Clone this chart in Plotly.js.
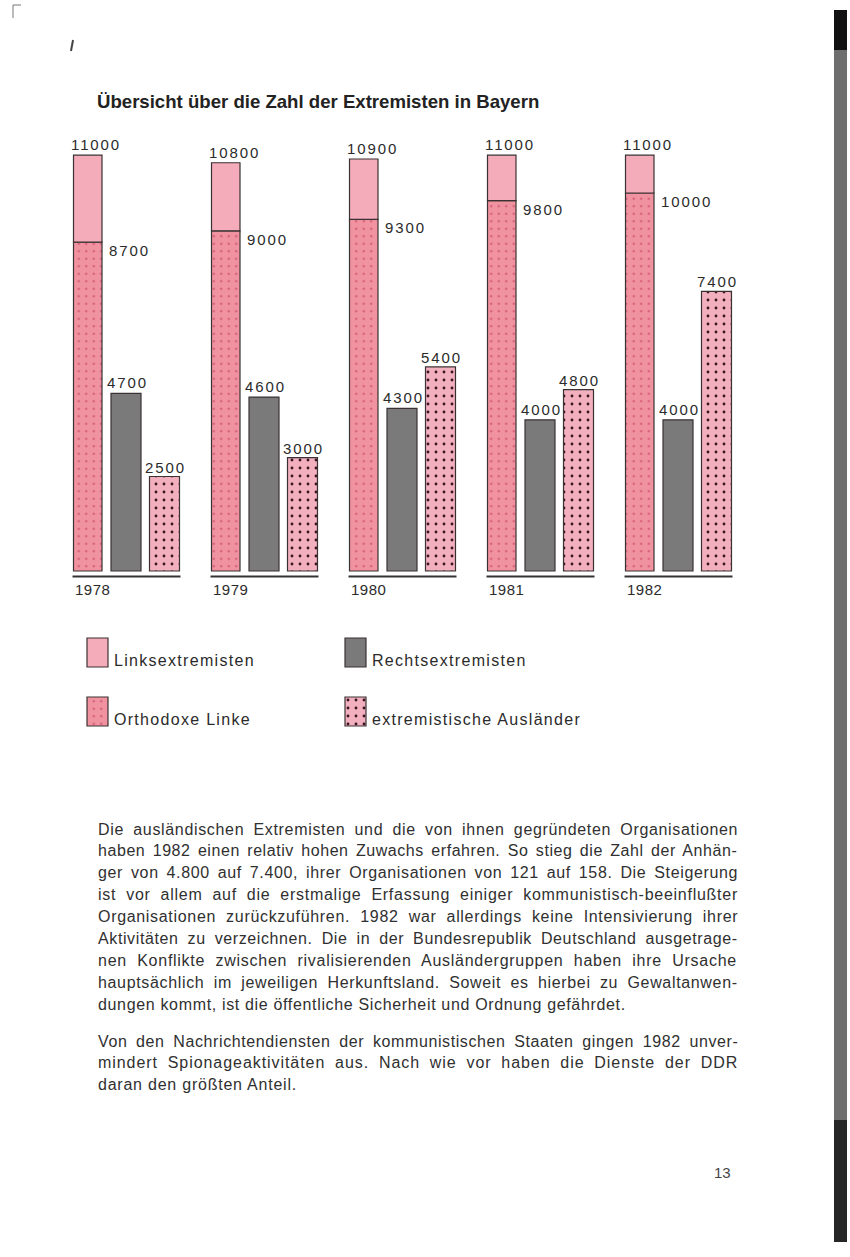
<!DOCTYPE html>
<html>
<head>
<meta charset="utf-8">
<script src="https://cdn.plot.ly/plotly-3.0.1.min.js"></script>
<style>html,body{margin:0;padding:0;background:#ffffff;}#chart{width:850px;height:1257px;}</style>
</head>
<body>
<div id="chart"></div>
<script>
// ---------------- data ----------------
const years = ['1978', '1979', '1980', '1981', '1982'];
const linksTotal = [11000, 10800, 10900, 11000, 11000];      // Linksextremisten (gesamt)
const orthodoxeLinke = [8700, 9000, 9300, 9800, 10000];     // davon Orthodoxe Linke
const rechts = [4700, 4600, 4300, 4000, 4000];              // Rechtsextremisten
const auslaender = [2500, 3000, 5400, 4800, 7400];          // extremistische Ausländer
const seriesNames = ['Linksextremisten', 'Rechtsextremisten', 'Orthodoxe Linke', 'extremistische Ausländer'];
const titleText = 'Übersicht über die Zahl der Extremisten in Bayern';
const paragraph1 = [
  'Die ausländischen Extremisten und die von ihnen gegründeten Organisationen',
  'haben 1982 einen relativ hohen Zuwachs erfahren. So stieg die Zahl der Anhän-',
  'ger von 4.800 auf 7.400, ihrer Organisationen von 121 auf 158. Die Steigerung',
  'ist vor allem auf die erstmalige Erfassung einiger kommunistisch-beeinflußter',
  'Organisationen zurückzuführen. 1982 war allerdings keine Intensivierung ihrer',
  'Aktivitäten zu verzeichnen. Die in der Bundesrepublik Deutschland ausgetrage-',
  'nen Konflikte zwischen rivalisierenden Ausländergruppen haben ihre Ursache',
  'hauptsächlich im jeweiligen Herkunftsland. Soweit es hierbei zu Gewaltanwen-',
  'dungen kommt, ist die öffentliche Sicherheit und Ordnung gefährdet.'
];
const paragraph2 = [
  'Von den Nachrichtendiensten der kommunistischen Staaten gingen 1982 unver-',
  'mindert Spionageaktivitäten aus. Nach wie vor haben die Dienste der DDR',
  'daran den größten Anteil.'
];
const pageNumber = '13';

// ---------------- styles / geometry ----------------
const W = 850, H = 1257;
const FAMILY = '"Liberation Sans", Arial, Helvetica, sans-serif';
const TXT = '#2b2b2b';
const C_LINKS = '#f4abba', C_ORTHO = '#f0929f', C_ORTHO_DOT = '#d5607a';
const C_RECHTS = '#7a7a7a', C_AUSL = '#f2b0bf', C_AUSL_DOT = '#3a1420';
const C_EDGE = '#3a3232';

const baselinePx = 571, pxPerUnit = 0.0378;      // value scale of the drawing
const groupLeftPx = 73.5, groupPitchPx = 138.0;  // group spacing
const pinkOff = 0, pinkW = 28.5, grayOff = 37.5, grayW = 30, dotOff = 76.0, dotW = 30;
const u = px => px / groupPitchPx;
const yOf = px => (baselinePx - px) / pxPerUnit;
const px2paperY = px => 1 - px / H;
const px2paperX = px => px / W;

const idx = years.map((_, i) => i);
const xPink = idx.map(i => i + u(pinkOff + pinkW / 2));
const xGray = idx.map(i => i + u(grayOff + grayW / 2));
const xDot = idx.map(i => i + u(dotOff + dotW / 2));
const edge = {color: C_EDGE, width: 1.2};
const orthoPattern = {shape: '.', bgcolor: C_ORTHO, fgcolor: C_ORTHO_DOT, size: 7.5, solidity: 0.09};
const auslPattern = {shape: '.', bgcolor: C_AUSL, fgcolor: C_AUSL_DOT, size: 8, solidity: 0.1};

const traces = [
  {type: 'bar', name: seriesNames[2], x: xPink, y: orthodoxeLinke, base: 0, width: u(pinkW),
   marker: {color: C_ORTHO, line: edge, pattern: orthoPattern}, showlegend: false, hoverinfo: 'skip'},
  {type: 'bar', name: seriesNames[0], x: xPink, y: linksTotal.map((v, i) => v - orthodoxeLinke[i]), base: orthodoxeLinke,
   width: u(pinkW), marker: {color: C_LINKS, line: edge}, showlegend: false, hoverinfo: 'skip'},
  {type: 'bar', name: seriesNames[1], x: xGray, y: rechts, base: 0, width: u(grayW),
   marker: {color: C_RECHTS, line: edge}, showlegend: false, hoverinfo: 'skip'},
  {type: 'bar', name: seriesNames[3], x: xDot, y: auslaender, base: 0, width: u(dotW),
   marker: {color: C_AUSL, line: edge, pattern: auslPattern}, showlegend: false, hoverinfo: 'skip'}
];

// legend swatches (drawn on a pixel helper axis)
const legendItems = [
  {name: seriesNames[0], x: 87, y: 638, color: C_LINKS, pattern: null},
  {name: seriesNames[1], x: 345, y: 638, color: C_RECHTS, pattern: null},
  {name: seriesNames[2], x: 87, y: 697, color: C_ORTHO, pattern: orthoPattern},
  {name: seriesNames[3], x: 345, y: 697, color: C_AUSL, pattern: auslPattern}
];
const swW = 21, swH = 29;
legendItems.forEach(it => {
  const m = {color: it.color, line: edge};
  if (it.pattern) m.pattern = it.pattern;
  traces.push({type: 'bar', x: [it.x + swW / 2], y: [swH], base: [it.y], width: swW, marker: m,
               xaxis: 'x2', yaxis: 'y2', showlegend: false, hoverinfo: 'skip'});
});

// ---------------- text helpers ----------------
const ctx = document.createElement('canvas').getContext('2d');
function textWidth(s, size, weight) {
  ctx.font = (weight || 'normal') + ' ' + size + 'px "Liberation Sans"';
  return ctx.measureText(s).width;
}
function spaced(s, ls, ws) {
  return '<span style="letter-spacing:' + ls.toFixed(2) + 'px;word-spacing:' + (ws || 0).toFixed(2) + 'px">' + s + '</span>';
}
const valFont = {family: FAMILY, size: 15, color: TXT};
const annotations = [];
function ann(o) { annotations.push(Object.assign({showarrow: false, font: valFont}, o)); }

idx.forEach(i => {
  ann({x: i + u(pinkOff), y: linksTotal[i], xanchor: 'left', yanchor: 'bottom', xshift: -5, yshift: 0,
       text: spaced(String(linksTotal[i]), 1.9)});
  ann({x: i + u(pinkOff + pinkW), y: orthodoxeLinke[i], xanchor: 'left', yanchor: 'top', xshift: 5, yshift: 2,
       text: spaced(String(orthodoxeLinke[i]), 1.9)});
  ann({x: i + u(grayOff), y: rechts[i], xanchor: 'left', yanchor: 'bottom', xshift: -6, yshift: 0,
       text: spaced(String(rechts[i]), 1.9)});
  ann({x: xDot[i], y: auslaender[i], xanchor: 'center', yanchor: 'bottom', xshift: 1, yshift: -1,
       text: spaced(String(auslaender[i]), 1.9)});
  ann({x: i + u(pinkOff), y: yOf(589), xanchor: 'left', yanchor: 'middle', xshift: -1,
       text: spaced(years[i], 0.5), font: {family: FAMILY, size: 15, color: TXT}});
});

// legend labels
legendItems.forEach(it => {
  ann({xref: 'paper', yref: 'paper', x: px2paperX(it.x + swW + 4), y: px2paperY(it.y + swH - 7),
       xanchor: 'left', yanchor: 'middle', text: spaced(it.name, 1.3), font: {family: FAMILY, size: 16, color: TXT}});
});

// title
ann({xref: 'paper', yref: 'paper', x: px2paperX(95), y: px2paperY(101), xanchor: 'left', yanchor: 'middle',
     text: '<b>' + titleText + '</b>', font: {family: FAMILY, size: 18.6, color: '#222222'}});

// body text, justified
const PSIZE = 16, PLEFT = 96, PRIGHT = 736, PLINE = 21.9;
function addParagraph(lines, topPx) {
  const lsList = [];
  lines.forEach((s, k) => {
    const last = k === lines.length - 1;
    let ls, ws = 0;
    if (!last) {
      const gap = (PRIGHT - PLEFT) - textWidth(s, PSIZE);
      const n = s.length, sp = (s.match(/ /g) || []).length;
      ls = Math.max(0, 0.6 * gap / n);
      ws = sp ? (gap - ls * n) / sp : 0;
      lsList.push(ls);
    } else {
      ls = lsList.length ? lsList.reduce((a, b) => a + b, 0) / lsList.length : 0.6;
    }
    ann({xref: 'paper', yref: 'paper', x: px2paperX(PLEFT), y: px2paperY(topPx + k * PLINE), xanchor: 'left', yanchor: 'middle',
         text: spaced(s, ls, ws), font: {family: FAMILY, size: PSIZE, color: '#303030'}});
  });
}
addParagraph(paragraph1, 829);
addParagraph(paragraph2, 1041);

ann({xref: 'paper', yref: 'paper', x: px2paperX(722), y: px2paperY(1172), xanchor: 'center', yanchor: 'middle',
     text: pageNumber, font: {family: FAMILY, size: 15, color: '#444444'}});

// ---------------- shapes (baselines, scan edge) ----------------
const shapes = idx.map(i => ({type: 'line', xref: 'x', yref: 'y', x0: i + u(pinkOff - 1), x1: i + u(dotOff + dotW + 1),
                              y0: yOf(576.5), y1: yOf(576.5), line: {color: '#333333', width: 2.2}}));
const bandX0 = px2paperX(834), bandX1 = px2paperX(847);
shapes.push({type: 'rect', xref: 'paper', yref: 'paper', x0: bandX0, x1: bandX1, y0: px2paperY(1242), y1: px2paperY(10),
             fillcolor: '#6e6e6e', line: {width: 0}, layer: 'below'});
shapes.push({type: 'rect', xref: 'paper', yref: 'paper', x0: bandX0, x1: bandX1, y0: px2paperY(50), y1: px2paperY(10),
             fillcolor: '#111111', line: {width: 0}, layer: 'below'});
shapes.push({type: 'rect', xref: 'paper', yref: 'paper', x0: bandX0, x1: bandX1, y0: px2paperY(1242), y1: px2paperY(1120),
             fillcolor: '#262626', line: {width: 0}, layer: 'below'});
shapes.push({type: 'path', xref: 'paper', yref: 'paper',
             path: 'M' + px2paperX(13) + ',' + px2paperY(18) + ' L' + px2paperX(13) + ',' + px2paperY(5) + ' L' + px2paperX(21) + ',' + px2paperY(5),
             line: {color: '#777777', width: 1}});
shapes.push({type: 'line', xref: 'paper', yref: 'paper', x0: px2paperX(73), x1: px2paperX(71), y0: px2paperY(40), y1: px2paperY(51),
             line: {color: '#444444', width: 2}});

const layout = {
  width: W, height: H,
  margin: {l: 0, r: 0, t: 0, b: 0, pad: 0},
  paper_bgcolor: '#ffffff', plot_bgcolor: 'rgba(0,0,0,0)',
  barmode: 'overlay', showlegend: false,
  xaxis: {domain: [0, 1], range: [u(-groupLeftPx), u(W - groupLeftPx)], visible: false, fixedrange: true},
  yaxis: {domain: [0, 1], range: [yOf(H), yOf(0)], visible: false, fixedrange: true},
  xaxis2: {domain: [0, 1], range: [0, W], visible: false, overlaying: 'x', anchor: 'y2', fixedrange: true},
  yaxis2: {domain: [0, 1], range: [H, 0], visible: false, overlaying: 'y', anchor: 'x2', fixedrange: true},
  annotations: annotations,
  shapes: shapes
};

Plotly.newPlot('chart', traces, layout, {staticPlot: true, displayModeBar: false});
</script>
</body>
</html>
